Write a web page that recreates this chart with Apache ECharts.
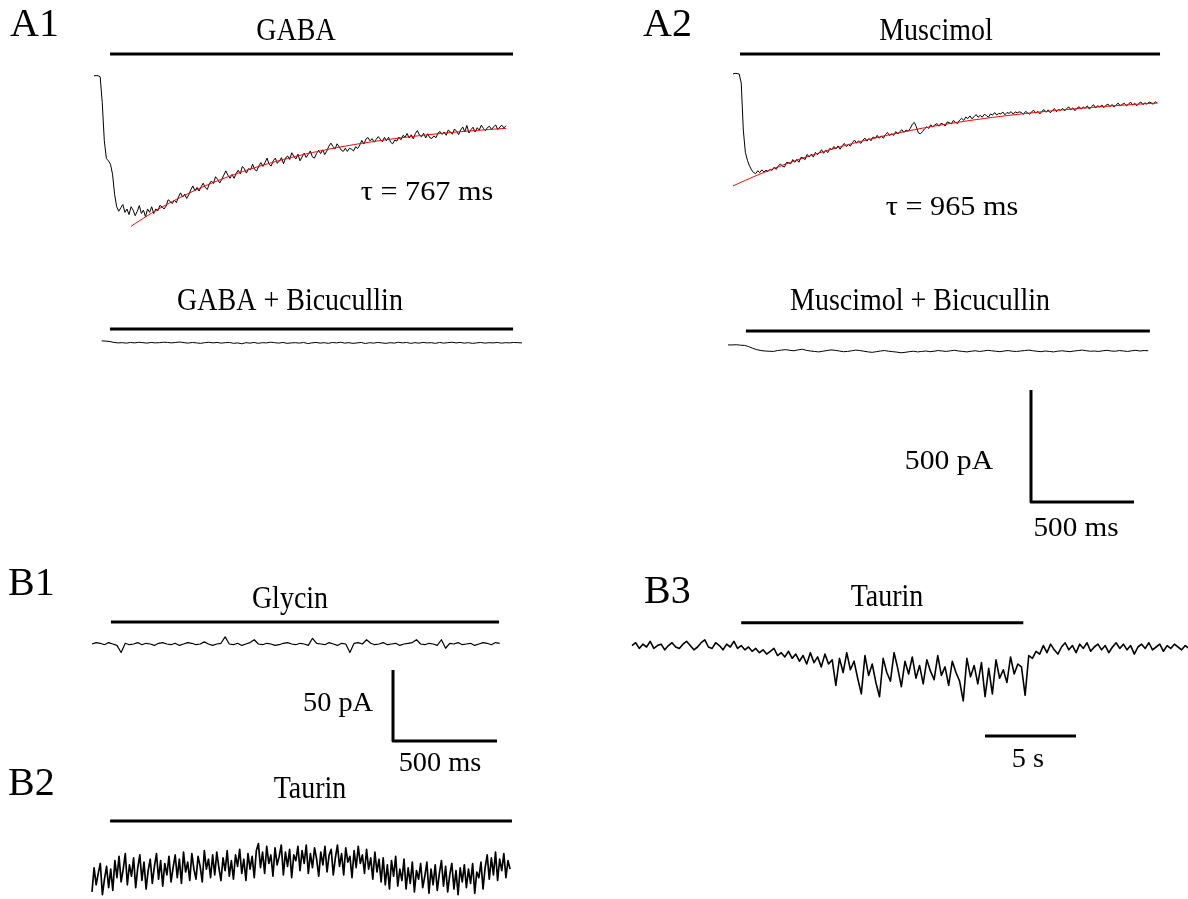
<!DOCTYPE html>
<html>
<head>
<meta charset="utf-8">
<script src="https://cdn.jsdelivr.net/npm/echarts@6/dist/echarts.min.js"></script>
<style>
  html, body { margin: 0; padding: 0; background: #ffffff; }
  #chart { width: 1188px; height: 899px; }
</style>
</head>
<body>
<div id="chart"></div>
<script>
// ---------- recorded currents (pA), sampled at a fixed step ----------

// A1: GABA response, 10 ms per sample
const gabaStep = 10;
const gabaTrace = [
  0, 0, 0, -5, -120, -290, -370, -380, -395, -440,
  -530, -585, -605, -590, -575, -610, -595, -620, -585, -600,
  -625, -605, -580, -615, -600, -630, -595, -610, -585, -615,
  -595, -603, -579, -585, -595, -582, -554, -561, -571, -555,
  -567, -541, -523, -542, -529, -548, -532, -509, -492, -514,
  -499, -515, -496, -480, -499, -508, -482, -470, -481, -451,
  -463, -479, -464, -444, -425, -444, -458, -441, -458, -437,
  -422, -438, -405, -416, -435, -415, -420, -395, -419, -425,
  -403, -388, -405, -388, -368, -396, -403, -380, -368, -391,
  -381, -366, -393, -368, -358, -374, -344, -360, -372, -350,
  -380, -363, -346, -365, -351, -336, -362, -368, -348, -333,
  -348, -331, -352, -337, -315, -301, -316, -327, -304, -318,
  -332, -338, -324, -338, -324, -328, -336, -317, -325, -310,
  -289, -305, -283, -276, -291, -281, -297, -284, -272, -284,
  -295, -275, -290, -275, -297, -304, -287, -292, -274, -286,
  -266, -274, -258, -278, -264, -282, -258, -245, -265, -273,
  -257, -278, -259, -277, -280, -269, -277, -256, -249, -262,
  -251, -266, -242, -252, -261, -238, -248, -263, -242, -229,
  -251, -222, -256, -241, -230, -251, -232, -243, -221, -235,
  -246, -231, -226, -241, -228, -220, -241, -229, -221, -233,
  -223
];
// mono-exponential fit of the GABA decay
const gabaTau = 767;          // ms
const gabaFitAmp = -610;      // pA
const gabaFitBase = -190;     // pA
const gabaFitRange = [180, 2000];

// A1: GABA + bicuculline, 20 ms per sample
const gabaBicStep = 20;
const gabaBicTrace = [
  5, 4, 2, -2, -4, -3, -5, -2, -4, -1,
  -3, -5, -2, -4, -3, -1, -2, -4, -2, 0,
  -3, -5, -2, -4, -6, -3, -1, -4, -2, -5,
  -3, -2, -6, -4, -8, -3, -5, -2, -6, -3,
  -4, -1, -3, -5, -2, -6, -4, -3, -5, -2,
  -7, -4, -2, -5, -3, -6, -2, -4, -1, -5,
  -3, -6, -4, -2, -7, -3, -5, -2, -4, -6,
  -3, -5, -1, -4, -2, -6, -3, -5, -2, -4,
  -3, -6, -2, -5, -3, -1, -4, -2, -5, -3,
  -6, -4, -2, -5, -3, -4, -2, -5, -3, -4,
  -2, -3, -4
];

// A2: muscimol response, 10 ms per sample
const muscStep = 10;
const muscTrace = [
  0, 3, 2, 0, -40, -250, -350, -385, -410, -428,
  -440, -445, -432, -440, -428, -437, -430, -435, -425, -430,
  -416, -426, -411, -401, -412, -415, -395, -396, -401, -382,
  -394, -381, -394, -372, -375, -382, -359, -370, -358, -371,
  -350, -360, -350, -338, -354, -340, -351, -332, -338, -324,
  -334, -321, -336, -320, -310, -324, -315, -322, -306, -295,
  -309, -298, -310, -297, -286, -300, -288, -298, -281, -287,
  -274, -287, -276, -287, -270, -261, -275, -267, -274, -257,
  -268, -257, -249, -261, -250, -256, -244, -225, -216, -235,
  -263, -267, -257, -245, -236, -243, -227, -236, -227, -221,
  -233, -220, -224, -232, -214, -217, -223, -207, -216, -221,
  -206, -198, -207, -192, -199, -187, -200, -191, -181, -193,
  -185, -193, -180, -185, -193, -178, -184, -172, -183, -176,
  -178, -170, -182, -172, -176, -168, -179, -169, -173, -169,
  -172, -180, -167, -173, -180, -168, -162, -174, -167, -178,
  -166, -159, -171, -160, -173, -163, -154, -168, -158, -163,
  -153, -165, -154, -147, -160, -151, -164, -153, -146, -157,
  -147, -153, -142, -157, -146, -137, -152, -141, -148, -138,
  -150, -140, -134, -146, -136, -148, -138, -130, -142, -135,
  -131, -142, -135, -125, -139, -130, -142, -131, -125, -137,
  -128, -135, -125, -129, -135, -124, -129
];
const muscTau = 965;          // ms
const muscFitAmp = -420;      // pA
const muscFitBase = -80;      // pA
const muscFitRange = [0, 2060];

// A2: muscimol + bicuculline, 20 ms per sample
const muscBicStep = 20;
const muscBicTrace = [
  27, 27, 28, 26, 25, 20, 12, 6, 2, 0,
  -1, -2, 2, 4, 6, 3, 1, 5, 8, 3,
  0, -2, -4, -1, 2, 5, 3, 0, -3, -2,
  1, 4, 2, -1, -4, -6, -3, 0, 2, -1,
  -3, -5, -8, -6, -3, -1, -4, -2, 0, -3,
  -1, 2, 0, -2, 1, 3, 0, -2, -4, -1,
  1, -2, 0, 3, 1, -1, -3, 0, 2, -1,
  -2, 0, 2, 4, 1, -1, -3, 0, -2, -4,
  -1, 1, -1, -3, 0, 2, 4, 1, -1, 0,
  -2, 1, 3, 0, -1, 2, 0, -2, 1, 3,
  0, 2, 1
];

// B1: glycine, 20 ms per sample
const glyStep = 20;
const glyTrace = [
  0, 1, 0.5, -0.5, 1, 0, -1, -6, 0.5, -0.5,
  0, 1, -0.5, 0.5, 0, -1, 0.5, 1, 0, -0.5,
  0.5, -1, 0, 1, 0.5, -0.5, 0, 1.5, 0, -1,
  0, 0.5, 5, 0, -0.5, 0.5, -1, 0, 1, 3,
  0, -0.5, 0.5, 0, -1, -0.5, 0.5, 1, 0, -0.5,
  0.5, 0, -1, 4, 0.5, 0, -0.5, 1, 0, -1,
  0.5, 0, -6, 0.5, 1, 0, 3, 0.5, -0.5, 0,
  1, -0.5, 0, 0.5, -1, 0, 0.5, 1, 3, 0,
  -0.5, 0.5, 0, -1, 3, -3, 0.5, 0, 1, -0.5,
  0, 0.5, -1, 0, 1, 0.5, -0.5, 1, 0.5
];

// B2: taurine, 10 ms per sample
const taurStep = 10;
const taurTrace = [
  -14, 3, -9, -1, 6, -16, -5, 4, -11, 2,
  -13, 8, -4, 11, -7, 2, 13, -9, 5, -3,
  10, -11, 3, 12, -6, 7, -12, 1, 9, -8,
  4, 13, -5, 8, -10, 6, -2, 11, -7, 3,
  12, -4, 9, -8, 14, 0, 7, -6, 13, 2,
  -5, 11, 4, -7, 15, 2, 9, -4, 12, -2,
  14, 3, -6, 10, 1, 15, -3, 8, -5, 12,
  4, 16, -1, 9, -6, 13, 2, 11, -4, 15,
  20, 3, 14, -1, 18, 6, 12, -3, 17, 5,
  11, 19, -2, 14, 4, 16, -4, 12, 8, 18,
  1, 15, 6, 19, -1, 13, 3, 17, 9, -3,
  14, 5, 18, 0, 12, 16, -2, 10, 19, 4,
  13, -2, 17, 7, 11, -4, 15, 3, 18, 6,
  12, -1, 16, 2, 10, -5, 14, 0, 9, -7,
  10, -9, 5, -12, 8, -3, 11, -10, 2, -6,
  9, -12, 3, -8, 7, -14, 1, -5, 6, -11,
  -3, 7, -15, 2, -9, 5, -13, -1, 8, -10,
  4, -14, -2, 6, -12, 1, -16, 3, -7, 5,
  -11, 2, -8, 6, -15, 0, -4, 7, -12, 3,
  12, -5, 10, -2, 14, -6, 9, 1, 13, -4,
  8, 2
];

// B3: taurine, long recording, 0.2 s per sample
const taurLongStep = 0.2;
const taurLongTrace = [
  1, 3, -1, 2, 0, 4, -1, 1, 2, -2,
  1, 3, 0, -1, 2, 4, 1, -2, 0, 3,
  5, 0, -1, 3, 1, -2, 2, 0, 4, -1,
  1, -2, 0, -3, -1, -4, -2, -5, -3, -1,
  -6, -4, -7, -3, -8, -5, -10, -6, -12, -4,
  -11, -7, -14, -5, -12, -9, -27, -8, -18, -4,
  -16, -10, -22, -33, -6, -20, -12, -25, -35, -8,
  -18, -24, -4, -15, -28, -10, -19, -7, -22, -13,
  -26, -9, -17, -23, -6, -20, -14, -27, -10, -18,
  -24, -38, -8, -21, -13, -26, -11, -35, -15, -33,
  -9, -22, -16, -25, -7, -19, -12, -14, -34, -6,
  -8, -3, -5, 1, -4, 2, -2, -5, 0, 3,
  -2, 1, -4, 2, -1, 3, -3, 0, 2, -2,
  1, -4, 0, 3, -1, 2, -2, 1, -5, 0,
  2, -1, 3, -2, 0, 2, -3, 1, -1, 2,
  0, -2, 1, -1
];

// drug application bars: [start, end, level]
const gabaBar = [78, 2034, 97];
const gabaBicBar = [40, 1997, 58];
const muscBar = [34, 2073, 89];
const muscBicBar = [87, 2048, 89];
const glyBar = [91, 1957, 15.5];
const taurBar = [87, 2019, 36];
const taurLongBar = [6.0, 21.5, 17];

// scale bars: [time, current]
const scaleA = [500, 500];   // ms, pA
const scaleB = [500, 50];    // ms, pA
const scaleB3 = [5];         // s

// ---------- layout ----------
const SERIF = "'Liberation Serif', 'DejaVu Serif', 'Times New Roman', serif";
const grids = [], xAxes = [], yAxes = [], series = [];

// a panel places data (0,0) at pixel (x0,y0) with kx / ky pixels per unit
function addPanel(x0, y0, kx, ky, xMin, xMax, yMin, yMax) {
  const i = grids.length;
  grids.push({
    left: x0 + xMin * kx,
    top: y0 - yMax * ky,
    width: (xMax - xMin) * kx,
    height: (yMax - yMin) * ky,
    outerBoundsMode: 'none',
    containLabel: false
  });
  xAxes.push({ type: 'value', gridIndex: i, min: xMin, max: xMax, show: false });
  yAxes.push({ type: 'value', gridIndex: i, min: yMin, max: yMax, show: false });
  return i;
}

function lineSeries(gi, data, color, width, z) {
  series.push({
    type: 'line', xAxisIndex: gi, yAxisIndex: gi,
    data: data, symbol: 'none', showSymbol: false, clip: false,
    silent: true, animation: false, z: z || 2,
    lineStyle: { color: color, width: width, join: 'round', cap: 'butt' }
  });
}

function trace(gi, values, step, color, width) {
  lineSeries(gi, values.map((v, k) => [k * step, v]), color, width, 2);
}

function fitCurve(gi, tau, amp, base, range, step) {
  const pts = [];
  for (let t = range[0]; t <= range[1]; t += step) {
    pts.push([t, base + amp * Math.exp(-t / tau)]);
  }
  lineSeries(gi, pts, '#ff0000', 1, 3);
}

function bar(gi, b) {
  lineSeries(gi, [[b[0], b[2]], [b[1], b[2]]], '#000000', 3, 2);
}

const kxA = 0.206, kyA = 0.224;   // px per ms, px per pA
const kxB = 0.208, kyB = 1.42;
const kxB3 = 18.2;                // px per s

// A1
const gA1 = addPanel(94, 75.7, kxA, kyA, -20, 2100, -720, 130);
bar(gA1, gabaBar);
trace(gA1, gabaTrace, gabaStep, '#000000', 1);
fitCurve(gA1, gabaTau, gabaFitAmp, gabaFitBase, gabaFitRange, 20);

const gA1b = addPanel(101.7, 342, kxA, kyA, -20, 2100, -60, 80);
bar(gA1b, gabaBicBar);
trace(gA1b, gabaBicTrace, gabaBicStep, '#000000', 1);

// A2
const gA2 = addPanel(733, 74, kxA, kyA, -20, 2100, -560, 120);
bar(gA2, muscBar);
trace(gA2, muscTrace, muscStep, '#000000', 1);
fitCurve(gA2, muscTau, muscFitAmp, muscFitBase, muscFitRange, 20);

const gA2b = addPanel(728, 351, kxA, kyA, -20, 2100, -60, 120);
bar(gA2b, muscBicBar);
trace(gA2b, muscBicTrace, muscBicStep, '#000000', 1);

// A scale bar
const gAs = addPanel(1031, 502, kxA, kyA, -10, 520, -10, 520);
lineSeries(gAs, [[0, scaleA[1]], [0, 0], [scaleA[0], 0]], '#000000', 3, 2);

// B1
const gB1 = addPanel(92, 644, kxB, kyB, -20, 2020, -12, 20);
bar(gB1, glyBar);
trace(gB1, glyTrace, glyStep, '#000000', 1.2);

const gB1s = addPanel(393, 741, kxB, kyB, -10, 520, -5, 55);
lineSeries(gB1s, [[0, scaleB[1]], [0, 0], [scaleB[0], 0]], '#000000', 3, 2);

// B2
const gB2 = addPanel(92, 872, kxB, kyB, -20, 2040, -20, 40);
bar(gB2, taurBar);
trace(gB2, taurTrace, taurStep, '#000000', 1.7);

// B3
const gB3 = addPanel(632, 647, kxB3, kyB, -0.5, 31, -45, 22);
bar(gB3, taurLongBar);
trace(gB3, taurLongTrace, taurLongStep, '#000000', 1.6);

const gB3s = addPanel(985, 736, kxB3, kyB, -0.5, 5.5, -5, 5);
lineSeries(gB3s, [[0, 0], [scaleB3[0], 0]], '#000000', 3, 2);

// ---------- text ----------
function txt(text, x, y, size, align, sx, sy) {
  return {
    type: 'text', x: x, y: y, silent: true,
    scaleX: sx || 1, scaleY: sy || 1,
    style: {
      text: text, fill: '#000000',
      font: size + 'px ' + SERIF,
      align: align || 'center', verticalAlign: 'middle',
      textAlign: align || 'center', textVerticalAlign: 'middle'
    }
  };
}

const labels = [
  txt('A1', 10, 25, 40, 'left'),
  txt('A2', 643, 25, 40, 'left'),
  txt('B1', 8, 584, 40, 'left'),
  txt('B2', 8, 784, 40, 'left'),
  txt('B3', 644, 592, 40, 'left'),
  txt('GABA', 296, 32, 28, 'center', 1, 1.12),
  txt('Muscimol', 936, 32, 28, 'center', 1, 1.12),
  txt('\u03c4 = 767 ms', 427, 193, 28, 'center', 1.08, 1),
  txt('\u03c4 = 965 ms', 952, 208, 28, 'center', 1.08, 1),
  txt('GABA + Bicucullin', 290, 302, 28, 'center', 1, 1.1),
  txt('Muscimol + Bicucullin', 920, 302, 28, 'center', 1, 1.1),
  txt('500 pA', 949, 462, 27, 'center', 1.1, 1),
  txt('500 ms', 1076, 529, 27, 'center', 1.08, 1),
  txt('Glycin', 290, 600, 28, 'center', 1, 1.1),
  txt('50 pA', 338, 704, 27, 'center', 1.05, 1.05),
  txt('500 ms', 440, 764, 27, 'center', 1.05, 1.05),
  txt('Taurin', 310, 790, 28, 'center', 1, 1.1),
  txt('Taurin', 887, 598, 28, 'center', 1, 1.1),
  txt('5 s', 1028, 760, 27, 'center', 1.05, 1.05)
];

const chart = echarts.init(document.getElementById('chart'), null, { renderer: 'canvas' });
chart.setOption({
  backgroundColor: '#ffffff',
  animation: false,
  grid: grids,
  xAxis: xAxes,
  yAxis: yAxes,
  series: series,
  graphic: labels
});
</script>
</body>
</html>
